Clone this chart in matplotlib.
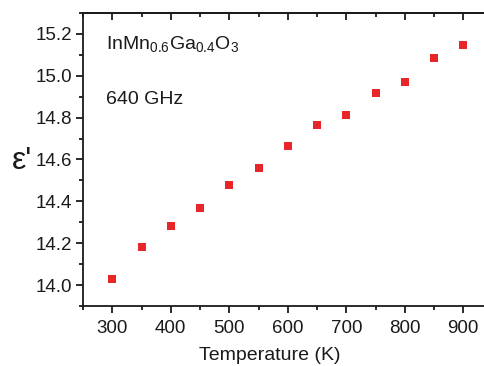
import numpy as np
import matplotlib.pyplot as plt
from matplotlib.ticker import MultipleLocator

plt.rcParams['font.family'] = ['Liberation Sans', 'DejaVu Sans']
plt.rcParams['mathtext.fontset'] = 'custom'
plt.rcParams['mathtext.rm'] = 'Liberation Sans'
plt.rcParams['mathtext.default'] = 'regular'

# dielectric constant vs temperature at 640 GHz
temperature = [300, 350, 400, 450, 500, 550, 600, 650, 700, 750, 800, 850, 900]
eps_real = [14.03, 14.18, 14.28, 14.37, 14.48, 14.56, 14.665, 14.767,
            14.814, 14.92, 14.97, 15.084, 15.147]

INK = '#1a1a1a'

fig = plt.figure(figsize=(4.84, 3.66), dpi=100)
# axes run slightly past the right edge of the figure
ax = fig.add_axes([83 / 484, 1 - 306 / 366, 409.5 / 484, 293 / 366])

ax.plot(temperature, eps_real, 's', color='#e8262a', markersize=5.8,
        markeredgewidth=0)

ax.set_xlim(250, 950)
ax.set_ylim(13.9, 15.3)
ax.xaxis.set_major_locator(MultipleLocator(100))
ax.xaxis.set_minor_locator(MultipleLocator(50))
ax.yaxis.set_major_locator(MultipleLocator(0.2))
ax.yaxis.set_minor_locator(MultipleLocator(0.1))
ax.yaxis.set_major_formatter(plt.FormatStrFormatter('%.1f'))

ax.spines['right'].set_visible(False)
for s in ax.spines.values():
    s.set_linewidth(1.3)
    s.set_color(INK)

ax.tick_params(axis='both', which='major', length=5, width=1.3,
               labelsize=13.5, color=INK, labelcolor=INK)
ax.tick_params(axis='both', which='minor', length=3, width=1.3, color=INK)
ax.tick_params(axis='x', which='both', pad=5)
ax.tick_params(axis='y', which='both', pad=3)

# top axis: ticks pointing into the plot, no labels
top = ax.secondary_xaxis('top')
top.xaxis.set_major_locator(MultipleLocator(100))
top.xaxis.set_minor_locator(MultipleLocator(50))
top.tick_params(which='major', direction='in', length=5, width=1.3,
                color=INK, labeltop=False)
top.tick_params(which='minor', direction='in', length=3, width=1.3, color=INK)
top.spines['top'].set_linewidth(1.3)
top.spines['top'].set_color(INK)

ax.text(0.055, 0.877, r'InMn$_{0.6}$Ga$_{0.4}$O$_3$', transform=ax.transAxes,
        fontsize=14, color=INK, va='baseline')
ax.text(0.055, 0.689, '640 GHz', transform=ax.transAxes,
        fontsize=14, color=INK, va='baseline')

fig.text(22 / 484, 1 - 161 / 366, "ε'", fontsize=23, ha='center', va='center',
         color=INK)
fig.text(270 / 484, 1 - 356 / 366, 'Temperature (K)', fontsize=14,
         ha='center', va='center', color=INK)

fig.savefig('out.png', dpi=100)
